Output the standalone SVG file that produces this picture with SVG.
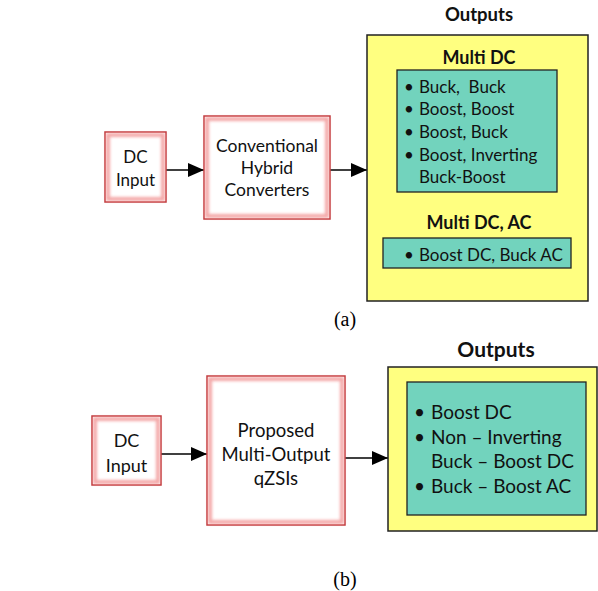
<svg xmlns="http://www.w3.org/2000/svg" width="598" height="591" viewBox="0 0 598 591">
<style>
.t{font-family:"Lato","Open Sans","Liberation Sans",sans-serif;fill:#111}
.b{font-weight:bold}
.red{fill:#fff;stroke:#c0393b;stroke-width:1.5}
.glow{fill:none;stroke:#f08a8a;stroke-width:4;filter:url(#bl);opacity:.75}
.yel{fill:#ffff80;stroke:#222;stroke-width:1.5}
.teal{fill:#72d3bd;stroke:#222;stroke-width:1.3}
.ln{stroke:#000;stroke-width:1.4;fill:none}
.cap{font-family:"Liberation Serif",serif;font-size:20px;fill:#000}
</style>
<defs>
<filter id="bl" x="-10%" y="-10%" width="120%" height="120%"><feGaussianBlur stdDeviation="1.6"/></filter>
<marker id="ah" markerWidth="16" markerHeight="14" refX="16" refY="7" orient="auto" markerUnits="userSpaceOnUse"><path d="M0,0 L16,7 L0,14 Z" fill="#000"/></marker>
</defs>

<g id="connectors">
<line class="ln" x1="166" y1="170" x2="204" y2="170" marker-end="url(#ah)"/>
<line class="ln" x1="330" y1="170" x2="367" y2="170" marker-end="url(#ah)"/>
<line class="ln" x1="161" y1="454" x2="207" y2="454" marker-end="url(#ah)"/>
<line class="ln" x1="345" y1="458" x2="388" y2="458" marker-end="url(#ah)"/>
</g>

<g id="a_dcinput">
<rect class="red" x="105" y="132" width="61" height="70"/>
<rect class="glow" x="108" y="135" width="55" height="64"/>
<text class="t" font-size="17" text-anchor="middle" x="135.5" y="163">DC</text>
<text class="t" font-size="17" text-anchor="middle" x="135.5" y="186">Input</text>
</g>

<g id="a_conv">
<rect class="red" x="204" y="116" width="126" height="103"/>
<rect class="glow" x="207" y="119" width="120" height="97"/>
<text class="t" font-size="17.5" text-anchor="middle" x="267" y="152">Conventional</text>
<text class="t" font-size="17.5" text-anchor="middle" x="267" y="174">Hybrid</text>
<text class="t" font-size="17.5" text-anchor="middle" x="267" y="196">Converters</text>
</g>

<g id="a_outputs">
<text class="t b" font-size="18.5" text-anchor="middle" x="479" y="21">Outputs</text>
<rect class="yel" x="367" y="35" width="221" height="266"/>
<text class="t b" font-size="18" text-anchor="middle" x="479" y="64">Multi DC</text>
<rect class="teal" x="397" y="70" width="160" height="122"/>
<g class="t" font-size="17">
<text x="404" y="93">•</text><text x="419" y="93">Buck,&#160; Buck</text>
<text x="404" y="115">•</text><text x="419" y="115">Boost, Boost</text>
<text x="404" y="138">•</text><text x="419" y="138">Boost, Buck</text>
<text x="404" y="161">•</text><text x="419" y="161">Boost, Inverting</text>
<text x="419" y="183">Buck-Boost</text>
</g>
<text class="t b" font-size="18" text-anchor="middle" x="479" y="229">Multi DC, AC</text>
<rect class="teal" x="383" y="238" width="188" height="30"/>
<g class="t" font-size="17">
<text x="404" y="261">•</text><text x="419" y="261">Boost DC, Buck AC</text>
</g>
</g>

<text class="cap" x="345" y="326" text-anchor="middle">(a)</text>

<g id="b_dcinput">
<rect class="red" x="92" y="416" width="69" height="69"/>
<rect class="glow" x="95" y="419" width="63" height="63"/>
<text class="t" font-size="18" text-anchor="middle" x="126.5" y="447">DC</text>
<text class="t" font-size="18" text-anchor="middle" x="126.5" y="472">Input</text>
</g>

<g id="b_prop">
<rect class="red" x="207" y="376" width="138" height="149"/>
<rect class="glow" x="210" y="379" width="132" height="143"/>
<text class="t" font-size="18.5" text-anchor="middle" x="276" y="437">Proposed</text>
<text class="t" font-size="18.5" text-anchor="middle" x="276" y="461">Multi-Output</text>
<text class="t" font-size="18.5" text-anchor="middle" x="276" y="485">qZSIs</text>
</g>

<g id="b_outputs">
<text class="t b" font-size="21" text-anchor="middle" x="496" y="357">Outputs</text>
<rect class="yel" x="388" y="367" width="209" height="164"/>
<rect class="teal" x="407" y="382" width="179" height="133"/>
<g class="t" font-size="19">
<text x="414" y="419">•</text><text x="431" y="419">Boost DC</text>
<text x="414" y="444">•</text><text x="431" y="444">Non – Inverting</text>
<text x="431" y="468">Buck – Boost DC</text>
<text x="414" y="493">•</text><text x="431" y="493">Buck – Boost AC</text>
</g>
</g>

<text class="cap" x="345" y="586" text-anchor="middle">(b)</text>
</svg>
